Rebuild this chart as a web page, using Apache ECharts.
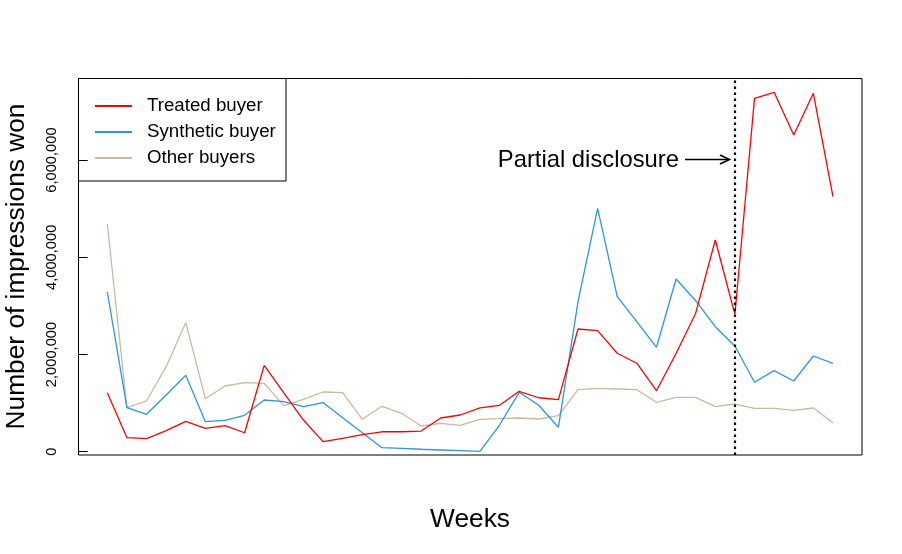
<!DOCTYPE html>
<html>
<head>
<meta charset="utf-8">
<script src="https://cdn.jsdelivr.net/npm/echarts@6/dist/echarts.min.js"></script>
<style>html,body{margin:0;padding:0;background:#fff;}#chart{width:902px;height:554px;}</style>
</head>
<body>
<div id="chart"></div>
<script>
var weeks = [1,2,3,4,5,6,7,8,9,10,11,12,13,14,15,16,17,18,19,20,21,22,23,24,25,26,27,28,29,30,31,32,33,34,35,36,37,38];
var treated = [1214000,288000,267000,432000,625000,480000,535000,390000,1777000,1210000,652000,206000,275000,350000,410000,410000,425000,693000,755000,900000,955000,1243000,1110000,1070000,2525000,2490000,2025000,1820000,1255000,2020000,2850000,4356000,2827000,7270000,7395000,6516000,7375000,5247000];
var synthetic = [3286000,905000,770000,1167000,1572000,617000,646000,749000,1064000,1029000,926000,1012000,700000,390000,83000,70000,50000,35000,20000,5000,549000,1222000,955000,502000,3086000,5008000,3190000,2675000,2148000,3553000,3107000,2572000,2175000,1428000,1667000,1455000,1969000,1819000];
var others = [4685000,905000,1043000,1749000,2654000,1091000,1352000,1420000,1407000,947000,1078000,1228000,1214000,667000,934000,790000,529000,584000,543000,667000,679000,693000,673000,741000,1276000,1304000,1290000,1276000,1016000,1119000,1119000,926000,981000,893000,893000,852000,899000,597000];
var yTicks = [0,2000000,4000000,6000000];
var seriesNames = ['Treated buyer','Synthetic buyer','Other buyers'];
var disclosureWeek = 33;
var disclosureLabel = 'Partial disclosure';
var xTitle = 'Weeks';
var yTitle = 'Number of impressions won';

function pairs(v){ return weeks.map(function(w,i){ return [w, v[i]]; }); }
var FONT = 'Liberation Sans, Arial, Helvetica, sans-serif';
var colors = ['#FF0000','#2A96E5','#CDB79E'];

var chart = echarts.init(document.getElementById('chart'), null, {renderer:'canvas'});
chart.setOption({
  animation:false,
  backgroundColor:'#fff',
  grid:{left:78.3, top:78.3, width:783.7, height:376.7, containLabel:false},
  xAxis:{type:'value', min:-0.48, max:39.48, axisLine:{show:false}, axisTick:{show:false}, axisLabel:{show:false}, splitLine:{show:false}},
  yAxis:{type:'value', min:-68000, max:7683000,
    axisLine:{show:false},
    axisTick:{show:true, length:9, lineStyle:{color:'#000', width:1}, customValues:yTicks},
    axisLabel:{show:true, rotate:90, margin:19, color:'#000', fontFamily:FONT, fontSize:14.7, customValues:yTicks,
      formatter:function(v){ return v.toLocaleString('en-US'); }},
    splitLine:{show:false}},
  legend:{orient:'vertical', left:95, top:96, padding:0, icon:'rect', itemWidth:37, itemHeight:1.8, itemGap:6,
    data:seriesNames,
    textStyle:{fontFamily:FONT, fontSize:18.7, lineHeight:20, color:'#000', padding:[0,0,0,10]}},
  series:[
    {name:seriesNames[0], type:'line', data:pairs(treated), symbol:'none', showSymbol:false, color:colors[0], lineStyle:{width:1.3, color:colors[0]}, z:4,
      markLine:{silent:true, symbol:'none', label:{show:false}, lineStyle:{color:'#000', width:2.2, type:[2.5,3.5]}, data:[{xAxis:disclosureWeek}]}},
    {name:seriesNames[1], type:'line', data:pairs(synthetic), symbol:'none', showSymbol:false, color:colors[1], lineStyle:{width:1.3, color:colors[1]}, z:3},
    {name:seriesNames[2], type:'line', data:pairs(others), symbol:'none', showSymbol:false, color:colors[2], lineStyle:{width:1.3, color:colors[2]}, z:2}
  ],
  graphic:[
    {type:'rect', shape:{x:78.5, y:78.5, width:783.5, height:376.5}, style:{fill:null, stroke:'#000', lineWidth:1}, z:10, silent:true},
    {type:'rect', shape:{x:78.5, y:78.5, width:207.5, height:102.5}, style:{fill:null, stroke:'#000', lineWidth:1}, z:10, silent:true},
    {type:'text', x:679, y:160, style:{text:disclosureLabel, fontFamily:FONT, fontSize:23.8, fill:'#000', textAlign:'right', textVerticalAlign:'middle'}, z:10},
    {type:'line', shape:{x1:685, y1:159.5, x2:729, y2:159.5}, style:{stroke:'#000', lineWidth:1.6}, z:10},
    {type:'polyline', shape:{points:[[720,155],[729.5,159.5],[720,164]]}, style:{stroke:'#000', lineWidth:1.6, fill:null}, z:10},
    {type:'text', x:470, y:520, style:{text:xTitle, fontFamily:FONT, fontSize:26.3, fill:'#000', textAlign:'center', textVerticalAlign:'middle'}, z:10},
    {type:'text', x:17, y:266.5, rotation:Math.PI/2, style:{text:yTitle, fontFamily:FONT, fontSize:26.3, fill:'#000', textAlign:'center', textVerticalAlign:'middle'}, z:10}
  ]
});
</script>
</body>
</html>
